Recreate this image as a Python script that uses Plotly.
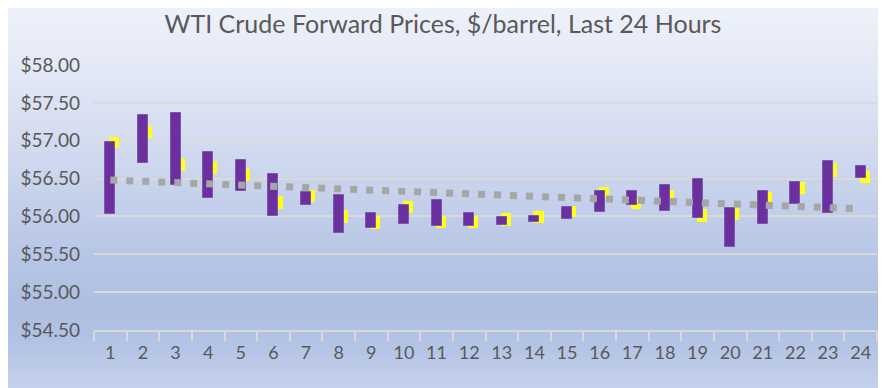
import plotly.graph_objects as go

hours = [str(i) for i in range(1, 25)]
bar_high = [56.98, 57.34, 57.37, 56.85, 56.75, 56.56, 56.32, 56.28, 56.04, 56.15, 56.22, 56.05,
            55.99, 56.00, 56.13, 56.33, 56.34, 56.42, 56.49, 56.11, 56.33, 56.46, 56.73, 56.67]
bar_low = [56.03, 56.71, 56.42, 56.24, 56.33, 56.00, 56.15, 55.78, 55.85, 55.90, 55.88, 55.88,
           55.89, 55.93, 55.97, 56.06, 56.15, 56.07, 55.98, 55.59, 55.90, 56.17, 56.05, 56.51]
mark_high = [57.05, 57.19, 56.77, 56.73, 56.63, 56.27, 56.35, 56.08, 56.01, 56.21, 56.01, 56.01,
             56.04, 56.07, 56.14, 56.39, 56.24, 56.35, 56.10, 56.13, 56.32, 56.46, 56.70, 56.60]
mark_low = [56.90, 57.04, 56.60, 56.56, 56.47, 56.10, 56.19, 55.91, 55.84, 56.05, 55.85, 55.85,
            55.88, 55.91, 55.99, 56.24, 56.10, 56.21, 55.93, 55.95, 56.19, 56.29, 56.52, 56.44]
trend_x = ["1", "24"]
trend_y = [56.48, 56.10]
y_ticks = [54.5, 55.0, 55.5, 56.0, 56.5, 57.0, 57.5, 58.0]

FONT = "Lato"
fig = go.Figure()

fig.add_trace(go.Bar(
    x=hours, y=[h - l for h, l in zip(mark_high, mark_low)], base=mark_low,
    width=0.31, offset=-0.03, marker=dict(color="#ffff1a", line=dict(width=0)),
    hoverinfo="skip", showlegend=False))
fig.add_trace(go.Bar(
    x=hours, y=[h - l for h, l in zip(bar_high, bar_low)], base=bar_low,
    width=0.31, offset=-0.155, marker=dict(color="#6b2fa0", line=dict(width=1, color="#7a5aa8")),
    showlegend=False))
fig.add_trace(go.Scatter(
    x=trend_x, y=trend_y, mode="lines",
    line=dict(color="#a6a6a6", width=7, dash="7px,9px"), showlegend=False))

# page has an 8px body margin; figure pixels = page pixels - 8
OFF = 8
W, HT = 886 - OFF, 388 - OFF
top_px, bot_px = 65 - OFF, 330 - OFF
H = bot_px - top_px

# background gradient (stops in page pixels)
stops = [(0, (239, 242, 250)), (65, (228, 233, 246)), (150, (209, 218, 239)),
         (250, (184, 199, 230)), (310, (173, 190, 225)), (340, (178, 194, 228)),
         (388, (196, 209, 235))]
shapes = []
step = 4
for p in range(0, HT, step):
    c = p + OFF + step / 2
    col = stops[-1][1]
    for (p0, c0), (p1, c1) in zip(stops[:-1], stops[1:]):
        if p0 <= c <= p1:
            t = (c - p0) / (p1 - p0)
            col = tuple(round(a + (b - a) * t) for a, b in zip(c0, c1))
            break
    shapes.append(dict(type="rect", xref="paper", yref="paper", layer="below",
                       x0=-0.2, x1=1.1, y0=(bot_px - p - step - 0.5) / H, y1=(bot_px - p) / H,
                       fillcolor="rgb(%d,%d,%d)" % col, line=dict(width=0)))

fig.update_layout(
    width=W, height=HT,
    margin=dict(l=94 - OFF, r=9, t=top_px, b=HT - bot_px, autoexpand=False),
    paper_bgcolor="#c8d3ec", plot_bgcolor="rgba(0,0,0,0)",
    barmode="overlay", bargap=0,
    shapes=shapes,
    title=dict(text="WTI Crude Forward Prices, $/barrel, Last 24 Hours",
               x=0.5 - 0.5 * OFF / W, xref="container", xanchor="center",
               y=1 - (24 - OFF) / HT, yref="container", yanchor="middle",
               font=dict(family=FONT, size=25, color="#595959")),
    font=dict(family=FONT, color="#595959"),
    xaxis=dict(type="category", range=[-0.5, 23.5], showgrid=False,
               showline=True, linecolor="#d9d9d9", linewidth=2,
               ticks="outside", tickson="boundaries", ticklen=9, tickcolor="#d9d9d9", tickwidth=2,
               ticklabelstandoff=5,
               tickfont=dict(size=18, color="#595959"), fixedrange=True),
    yaxis=dict(range=[54.5, 58.0], tickvals=y_ticks,
               ticktext=["$%.2f" % v for v in y_ticks],
               showgrid=True, gridcolor="#d9d9d9", gridwidth=2, zeroline=False,
               showline=False, ticks="", ticklabelstandoff=13,
               tickfont=dict(size=19, color="#595959"), fixedrange=True),
)

fig.write_html("out.html")
